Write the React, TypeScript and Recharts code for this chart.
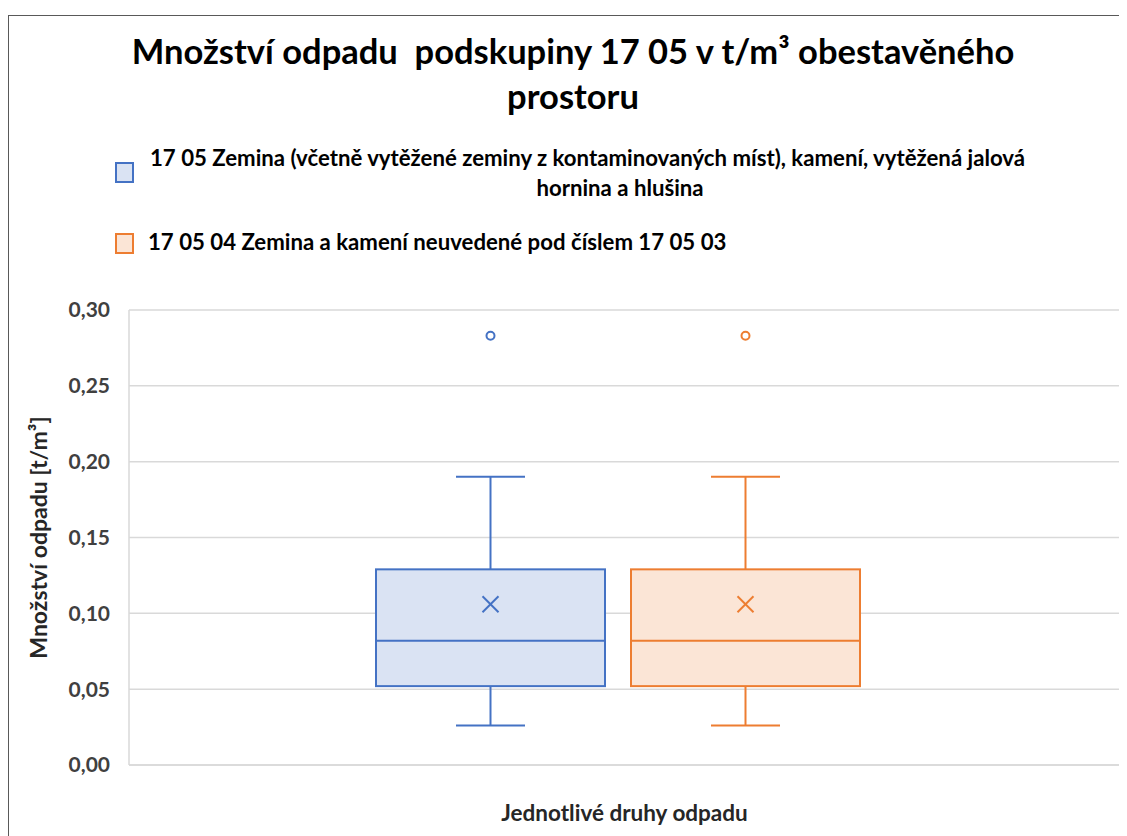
import React from "react";
import { ComposedChart, Bar, XAxis, YAxis, CartesianGrid } from "recharts";

// box plot statistics, one entry per series
const seriesNames = [
  "17 05 Zemina (včetně vytěžené zeminy z kontaminovaných míst), kamení, vytěžená jalová hornina a hlušina",
  "17 05 04 Zemina a kamení neuvedené pod číslem 17 05 03",
];
const legendLines = [
  ["17 05 Zemina (včetně vytěžené zeminy z kontaminovaných míst), kamení, vytěžená jalová", "hornina a hlušina"],
  ["17 05 04 Zemina a kamení neuvedené pod číslem 17 05 03"],
];
const whiskerLow = [0.026, 0.026];
const quartile1 = [0.052, 0.052];
const medians = [0.082, 0.082];
const quartile3 = [0.129, 0.129];
const whiskerHigh = [0.19, 0.19];
const means = [0.106, 0.106];
const outliers = [[0.283], [0.283]];
const yTicks = [0, 0.05, 0.1, 0.15, 0.2, 0.25, 0.3];
const categories = [""];

const strokes = ["#4472C4", "#ED7D31"];
const fills = ["#DAE3F3", "#FBE5D6"];
const FONT = "Lato, 'Noto Sans', sans-serif";

const data = categories.map((name) => {
  const row: any = { name };
  seriesNames.forEach((_, i) => {
    row["box" + i] = [quartile1[i], quartile3[i]];
  });
  return row;
});

const boxShape = (i: number) => (props: any) => {
  const { x, y, width, height } = props;
  const lo = quartile1[i];
  const hi = quartile3[i];
  // linear mapping taken from the bar the y scale drew for [q1, q3]
  const py = (v: number) => y + height - ((v - lo) / (hi - lo)) * height;
  const cx = x + width / 2;
  const c = strokes[i];
  const cap = 34.5;
  const m = 8;
  const my = py(means[i]);
  return (
    <g>
      <line x1={cx} x2={cx} y1={py(whiskerHigh[i])} y2={y} stroke={c} strokeWidth={2} />
      <line x1={cx - cap} x2={cx + cap} y1={py(whiskerHigh[i])} y2={py(whiskerHigh[i])} stroke={c} strokeWidth={2} />
      <line x1={cx} x2={cx} y1={y + height} y2={py(whiskerLow[i])} stroke={c} strokeWidth={2} />
      <line x1={cx - cap} x2={cx + cap} y1={py(whiskerLow[i])} y2={py(whiskerLow[i])} stroke={c} strokeWidth={2} />
      <rect x={x} y={y} width={width} height={height} fill={fills[i]} stroke={c} strokeWidth={2} />
      <line x1={x} x2={x + width} y1={py(medians[i])} y2={py(medians[i])} stroke={c} strokeWidth={2} />
      <line x1={cx - m} x2={cx + m} y1={my - m} y2={my + m} stroke={c} strokeWidth={2} />
      <line x1={cx - m} x2={cx + m} y1={my + m} y2={my - m} stroke={c} strokeWidth={2} />
      {outliers[i].map((v, k) => (
        <circle key={k} cx={cx} cy={py(v)} r={4} fill="#fff" stroke={c} strokeWidth={2} />
      ))}
    </g>
  );
};

const fmt = (v: number) => v.toFixed(2).replace(".", ",");

export default function App() {
  return (
    <div style={{ paddingTop: 7 }}>
      <div
        style={{
          position: "relative",
          width: 1118,
          height: 821,
          borderTop: "1px solid #595959",
          borderLeft: "1px solid #595959",
          background: "#fff",
          fontFamily: FONT,
          overflow: "hidden",
        }}
      >
        <div
          style={{
            position: "absolute",
            left: 10,
            width: 1108,
            top: 12,
            textAlign: "center",
            fontSize: 34.5,
            lineHeight: "45px",
            fontWeight: 700,
            color: "#000",
            whiteSpace: "pre",
          }}
        >
          {"Množství odpadu  podskupiny 17 05 v t/m³ obestavěného\nprostoru"}
        </div>

        {legendLines.map((lines, i) => (
          <div key={i} style={{ position: "absolute", left: 106, top: i === 0 ? 146 : 217 }}>
            <div
              style={{
                position: "absolute",
                left: 0,
                top: 0,
                width: 15,
                height: 17,
                background: fills[i],
                border: `2px solid ${strokes[i]}`,
                boxSizing: "content-box",
              }}
            />
            <div
              style={{
                position: "absolute",
                left: i === 0 ? 35 : 33,
                top: i === 0 ? -19 : -6,
                width: 940,
                fontSize: 22.2,
                lineHeight: "30px",
                fontWeight: 700,
                color: "#000",
                whiteSpace: "nowrap",
              }}
            >
              {lines.map((t, k) => (
                <div key={k} style={{ textAlign: k === 0 ? "left" : "center" }}>
                  {t}
                </div>
              ))}
            </div>
          </div>
        ))}

        <div style={{ position: "absolute", left: 0, top: 0 }}>
          <ComposedChart
            width={1118}
            height={820}
            data={data}
            margin={{ top: 294, right: 7, bottom: 11, left: 0 }}
            barSize={229}
            barGap={26}
          >
            <CartesianGrid horizontal vertical={false} stroke="#d9d9d9" strokeWidth={1.5} />
            <XAxis
              dataKey="name"
              tick={false}
              tickLine={false}
              axisLine={{ stroke: "#d9d9d9", strokeWidth: 1.5 }}
              height={60}
              padding={{ left: 0, right: 13 }}
              label={{
                value: "Jednotlivé druhy odpadu",
                position: "insideTop",
                offset: 40,
                fill: "#262626",
                fontSize: 22.5,
                fontWeight: 700,
                fontFamily: FONT,
              }}
            />
            <YAxis
              type="number"
              domain={[0, 0.3]}
              ticks={yTicks}
              tickFormatter={fmt}
              width={120}
              tickLine={false}
              tickMargin={13}
              axisLine={{ stroke: "#d9d9d9", strokeWidth: 1.5 }}
              tick={{ fill: "#404040", fontSize: 21, fontWeight: 700, fontFamily: FONT }}
              label={{
                value: "Množství odpadu [t/m³]",
                angle: -90,
                position: "insideLeft",
                offset: 30,
                style: { textAnchor: "middle" },
                fill: "#262626",
                fontSize: 23,
                fontWeight: 700,
                fontFamily: FONT,
              }}
            />
            {seriesNames.map((n, i) => (
              <Bar
                key={n}
                name={n}
                dataKey={"box" + i}
                fill={fills[i]}
                stroke={strokes[i]}
                shape={boxShape(i)}
                isAnimationActive={false}
              />
            ))}
          </ComposedChart>
        </div>
      </div>
    </div>
  );
}
